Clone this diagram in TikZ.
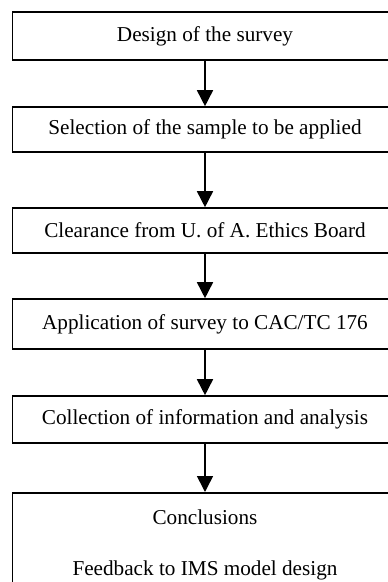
\documentclass[tikz,border=0pt]{standalone}
\usepackage{fontspec}
\setmainfont{Liberation Serif}
\usetikzlibrary{arrows.meta}
\begin{document}
\begin{tikzpicture}[x=1pt, y=-1pt,
  stepbox/.style={draw, line width=1.6pt, rectangle, minimum width=385pt,
    inner sep=0pt, font=\fontsize{21.2}{25}\selectfont},
  txt/.style={inner sep=0pt, font=\fontsize{21.2}{25}\selectfont},
  flow/.style={line width=1.6pt, -{Triangle[width=16pt,length=16pt]}}]
\useasboundingbox (0,0) rectangle (388,582);
\clip (0,0) rectangle (388,582);
% process steps
\node[stepbox, minimum height=48pt] (design) at (205,36) {Design of the survey};
\node[stepbox, minimum height=45pt] (sample) at (205,129.5) {Selection of the sample to be applied};
\node[stepbox, minimum height=45pt] (ethics) at (205,230.5) {Clearance from U. of A. Ethics Board};
\node[stepbox, minimum height=50pt] (apply) at (205,324) {Application of survey to CAC/TC 176};
\node[stepbox, minimum height=47pt] (collect) at (205,419.5) {Collection of information and analysis};
\node[stepbox, minimum height=110pt, anchor=north] (concl) at (205,492) {};
\node[txt] (conclText) at (205,517) {Conclusions};
\node[txt] (feedback) at (205,570) {Feedback to IMS model design};
% connectors
\draw[flow] (design.south) -- (sample.north);
\draw[flow] (sample.south) -- (ethics.north);
\draw[flow] (ethics.south) -- (apply.north);
\draw[flow] (apply.south) -- (collect.north);
\draw[flow] (collect.south) -- (concl.north);
\end{tikzpicture}
\end{document}
